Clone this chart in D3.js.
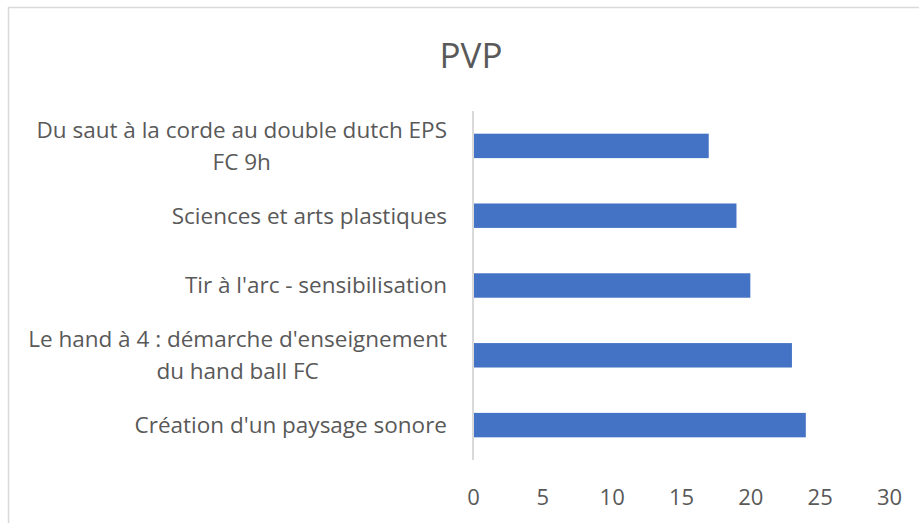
<!DOCTYPE html>
<html>
<head>
<meta charset="utf-8">
<script src="https://cdn.jsdelivr.net/npm/d3@7"></script>
<style>
  body { margin: 0; background: #fff; }
  text { font-family: "Open Sans", "Noto Sans", sans-serif; fill: #595959; }
</style>
</head>
<body>
<div id="chart"></div>
<script>
// data
var categories = [
  "Du saut à la corde au double dutch EPS FC 9h",
  "Sciences et arts plastiques",
  "Tir à l'arc - sensibilisation",
  "Le hand à 4 : démarche d'enseignement du hand ball FC",
  "Création d'un paysage sonore"
];
var values = [17, 19, 20, 23, 24];
var xTicks = [0, 5, 10, 15, 20, 25, 30];
var title = "PVP";

var W = 919, H = 523;
var margin = {top: 111, right: 30, bottom: 63, left: 473},
    width = 889 - margin.left,
    height = H - margin.top - margin.bottom;

var labelSize = "22.5px";

var svg = d3.select("#chart")
  .append("svg")
    .attr("width", W)
    .attr("height", H);

// chart area border (only top and left visible)
svg.append("rect")
    .attr("x", 8.5).attr("y", 7.5)
    .attr("width", W + 10).attr("height", H + 10)
    .attr("fill", "none")
    .attr("stroke", "#d9d9d9")
    .attr("stroke-width", 1.5);

svg.append("text")
    .attr("x", 471).attr("y", 68)
    .attr("text-anchor", "middle")
    .style("font-size", "35px")
    .text(title);

var g = svg.append("g")
    .attr("transform", "translate(" + margin.left + "," + margin.top + ")");

var x = d3.scaleLinear().domain([0, 30]).range([0, width]);
var y = d3.scaleBand().domain(categories).range([0, height])
    .paddingInner(0.65).paddingOuter(0.325);

// bars
g.selectAll(".bar")
    .data(values)
  .enter().append("rect")
    .attr("class", "bar")
    .attr("x", 0)
    .attr("y", function(d, i) { return y(categories[i]); })
    .attr("width", function(d) { return x(d); })
    .attr("height", y.bandwidth())
    .attr("fill", "#4472c4");

// vertical axis line
g.append("line")
    .attr("x1", 0).attr("x2", 0)
    .attr("y1", 0).attr("y2", height)
    .attr("stroke", "#d9d9d9")
    .attr("stroke-width", 2);

// x tick labels
var xAxis = d3.axisBottom(x).tickValues(xTicks).tickSize(0).tickPadding(0);
var xg = g.append("g")
    .attr("transform", "translate(0," + height + ")")
    .call(xAxis);
xg.select(".domain").remove();
xg.selectAll("text")
    .attr("y", 45)
    .attr("dy", 0)
    .style("font-size", "22px")
    .attr("fill", "#595959");

// category labels, wrapped and centred on the longest line
var labelRight = 447 - margin.left;
var lineH = 32;
categories.forEach(function(c) {
  var t = g.append("text")
      .style("font-size", labelSize)
      .attr("text-anchor", "middle");
  var words = c.split(" "), lines = [], line = [];
  var probe = g.append("text").style("font-size", labelSize);
  words.forEach(function(w) {
    line.push(w);
    probe.text(line.join(" "));
    if (probe.node().getComputedTextLength() > 432 && line.length > 1) {
      line.pop();
      lines.push(line.join(" "));
      line = [w];
    }
  });
  lines.push(line.join(" "));
  var maxW = d3.max(lines, function(l) { probe.text(l); return probe.node().getComputedTextLength(); });
  probe.remove();
  var cy = y(c) + y.bandwidth() / 2;
  lines.forEach(function(l, i) {
    t.append("tspan")
        .attr("x", labelRight - maxW / 2)
        .attr("y", cy + (i - (lines.length - 1) / 2) * lineH)
        .attr("dy", "0.35em")
        .text(l);
  });
});
</script>
</body>
</html>
